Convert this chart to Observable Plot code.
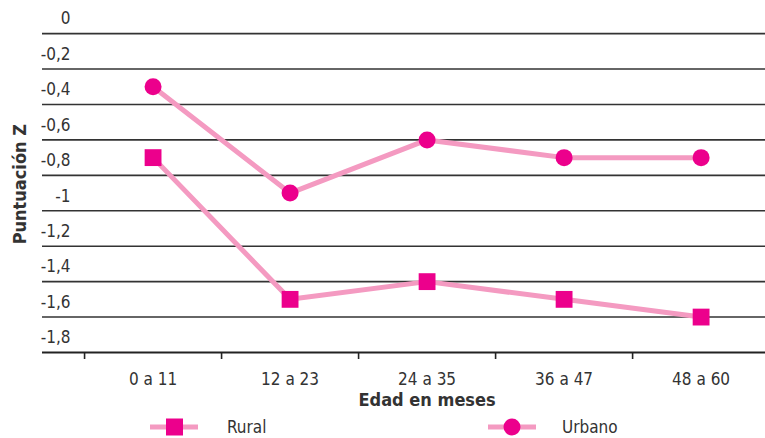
<!DOCTYPE html>
<html>
<head>
<meta charset="utf-8">
<script src="https://cdn.jsdelivr.net/npm/d3@7"></script>
<script src="https://cdn.jsdelivr.net/npm/@observablehq/plot@0.6"></script>
<style>
  html, body { margin: 0; padding: 0; background: #fff; }
  body { width: 765px; height: 438px; overflow: hidden; font-family: "Liberation Sans Narrow", "DejaVu Sans Condensed", "Roboto", sans-serif; }
  #legend { position: relative; width: 765px; height: 22px; font-size: 17px; color: #333; }
  #legend .item { position: absolute; top: 0; height: 22px; display: flex; align-items: center; }
  #legend .lbl { position: absolute; top: 1px; }
</style>
</head>
<body>
<div id="chart"></div>
<div id="legend"></div>
<script>
const ageGroups = ["0 a 11", "12 a 23", "24 a 35", "36 a 47", "48 a 60"];
const rural = [-0.8, -1.6, -1.5, -1.6, -1.7];
const urbano = [-0.4, -1.0, -0.7, -0.8, -0.8];
const yTickLabels = [0, -0.2, -0.4, -0.6, -0.8, -1, -1.2, -1.4, -1.6, -1.8];
const gridLines = [-0.1, -0.3, -0.5, -0.7, -0.9, -1.1, -1.3, -1.5, -1.7];
const axisLine = -1.9;

const lineColor = "#F49AC1";
const markColor = "#EC008C";
const textColor = "#333333";
const font = '"Liberation Sans Narrow", "DejaVu Sans Condensed", "Roboto", sans-serif';

const idx = ageGroups.map((_, i) => i);
const boundaries = ageGroups.slice(0, -1).map((_, i) => i - 0.5).concat([ageGroups.length - 1.5]);

const chart = Plot.plot({
  width: 765,
  height: 416,
  marginLeft: 42,
  marginRight: 0,
  marginTop: 15.4,
  marginBottom: 64,
  style: { fontFamily: font, fontSize: "17px", color: textColor, background: "white", overflow: "visible" },
  x: { type: "linear", domain: [-0.807, 4.47], axis: null },
  y: { domain: [axisLine, 0], axis: null },
  marks: [
    Plot.ruleY(gridLines, { stroke: "#333", strokeWidth: 1.6 }),
    Plot.ruleY([axisLine], { stroke: "#222", strokeWidth: 1.8 }),
    Plot.axisX(boundaries, { tickSize: 7, tickFormat: () => "", stroke: "#222", strokeWidth: 1.6 }),
    Plot.axisX(idx, { tickSize: 0, tickPadding: 20, tickFormat: i => ageGroups[i], fill: textColor, fontSize: 17 }),
    Plot.axisY(yTickLabels, { tickSize: 0, tickPadding: -28, textAnchor: "end", dy: 3, tickFormat: d => String(d).replace(".", ","), fill: textColor, fontSize: 17, label: null }),
    Plot.text(["Puntuación Z"], { frameAnchor: "left", textAnchor: "middle", dx: -22, rotate: -90, fontWeight: "bold", fontSize: 18, fill: textColor }),
    Plot.text(["Edad en meses"], { x: [(ageGroups.length - 1) / 2], frameAnchor: "bottom", dy: 53, fontWeight: "bold", fontSize: 18, fill: textColor }),
    Plot.line(rural, { x: (d, i) => i, y: d => d, stroke: lineColor, strokeWidth: 5 }),
    Plot.line(urbano, { x: (d, i) => i, y: d => d, stroke: lineColor, strokeWidth: 5 }),
    Plot.dot(rural, { x: (d, i) => i, y: d => d, symbol: "square", r: 9.5, fill: markColor, stroke: "none" }),
    Plot.dot(urbano, { x: (d, i) => i, y: d => d, symbol: "circle", r: 8.5, fill: markColor, stroke: "none" })
  ]
});
document.getElementById("chart").appendChild(chart);

const series = [
  { name: "Rural", symbol: "square", lineX: 150, textX: 227 },
  { name: "Urbano", symbol: "circle", lineX: 488, textX: 562 }
];
const legend = document.getElementById("legend");
for (const s of series) {
  const marker = s.symbol === "square"
    ? `<rect x="16" y="2.5" width="17" height="17" fill="${markColor}"/>`
    : `<circle cx="24" cy="11" r="8.5" fill="${markColor}"/>`;
  const item = document.createElement("div");
  item.className = "item";
  item.style.left = s.lineX + "px";
  item.innerHTML = `<svg width="48" height="22"><line x1="0" x2="48" y1="11" y2="11" stroke="${lineColor}" stroke-width="5"/>${marker}</svg>`;
  legend.appendChild(item);
  const lbl = document.createElement("div");
  lbl.className = "lbl";
  lbl.style.left = s.textX + "px";
  lbl.textContent = s.name;
  legend.appendChild(lbl);
}
</script>
</body>
</html>
